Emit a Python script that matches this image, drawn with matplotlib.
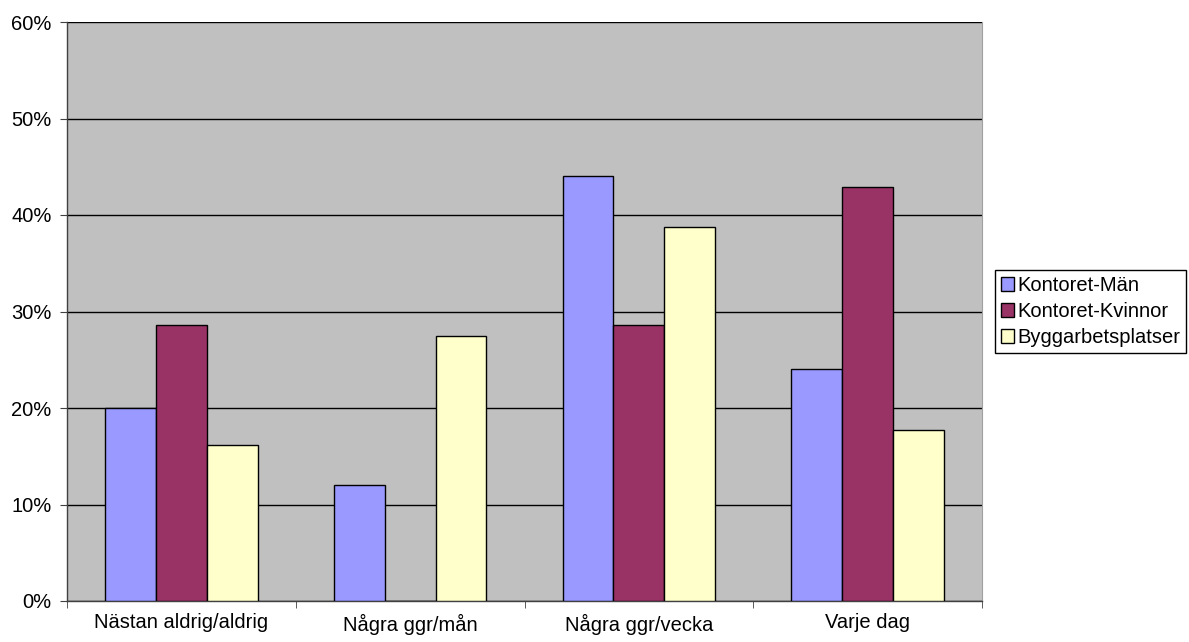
import numpy as np
import matplotlib.pyplot as plt
from matplotlib.ticker import FixedLocator, FuncFormatter

plt.rcParams["font.family"] = ["Liberation Sans", "DejaVu Sans"]
plt.rcParams["font.size"] = 14.5

categories = ["Nästan aldrig/aldrig", "Några ggr/mån", "Några ggr/vecka", "Varje dag"]
series_names = ["Kontoret-Män", "Kontoret-Kvinnor", "Byggarbetsplatser"]
kontoret_man = [20.0, 12.0, 44.0, 24.0]
kontoret_kvinnor = [28.57, 0.0, 28.57, 42.86]
byggarbetsplatser = [16.13, 27.42, 38.71, 17.74]
colors = ["#9999FF", "#993366", "#FFFFCC"]

fig = plt.figure(figsize=(11.89, 6.42), dpi=100)
ax = fig.add_axes([67 / 1189, 41 / 642, 915 / 1189, 579 / 642])
ax.set_facecolor("#C0C0C0")

x = np.arange(len(categories))
width = 1 / 4.5
for i, (name, vals, col) in enumerate(
    zip(series_names, [kontoret_man, kontoret_kvinnor, byggarbetsplatser], colors)
):
    ax.bar(x + (i - 1) * width, vals, width, color=col, edgecolor="black",
           linewidth=1, label=name, zorder=3)

ax.set_xlim(-0.5, len(categories) - 0.5)
ax.set_ylim(0, 60)
ax.set_yticks(np.arange(0, 61, 10))
ax.yaxis.set_major_formatter(FuncFormatter(lambda v, p: f"{v:.0f}%"))
ax.yaxis.grid(True, color="black", linewidth=1, zorder=1)
ax.set_axisbelow(True)

ax.set_xticks(x)
ax.set_xticklabels(categories)
ax.xaxis.set_minor_locator(FixedLocator(np.arange(-0.5, len(categories), 1)))
ax.tick_params(axis="x", which="major", length=0, pad=9)
ax.tick_params(axis="x", which="minor", length=5, color="#404040")
ax.tick_params(axis="y", length=5, color="#404040", pad=6)

ax.spines["top"].set_visible(False)
ax.spines["right"].set_color("#A0A0A0")
for s in ["left", "bottom"]:
    ax.spines[s].set_color("#404040")
    ax.spines[s].set_linewidth(1)

leg = fig.legend(loc="upper left", bbox_to_anchor=(995 / 1189, 1 - 270 / 642),
                 frameon=True, fancybox=False, edgecolor="black", framealpha=1,
                 handlelength=0.65, handleheight=0.65, handletextpad=0.15,
                 borderpad=0.3, labelspacing=0.35, borderaxespad=0)
leg.get_frame().set_linewidth(1)

fig.savefig("out.png", dpi=100)
